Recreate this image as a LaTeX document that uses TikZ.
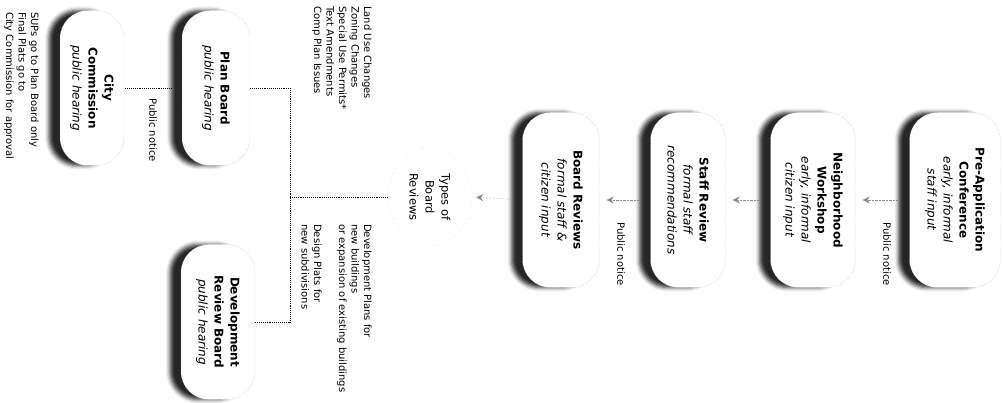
\documentclass[tikz,border=0pt]{standalone}
\usepackage{fontspec}
\setmainfont{DejaVu Sans}
\usetikzlibrary{arrows.meta,shapes.geometric,shadows.blur}

\begin{document}
\begin{tikzpicture}[x=1pt, y=-1pt, >={Stealth[length=7pt,width=7pt]},
    stage/.style={draw=black!30, densely dotted, fill=white, rounded corners=28pt,
      rotate=-90, align=center, minimum width=175pt, minimum height=78pt, inner sep=2pt,
      font=\fontsize{12}{16}\selectfont,
      blur shadow={shadow xshift=-11pt, shadow yshift=0pt, shadow blur radius=4pt, shadow opacity=85}},
    kind/.style={ellipse, draw=black!25, loosely dotted, rotate=-90, align=center,
      minimum width=98pt, minimum height=84pt, inner sep=0pt, font=\fontsize{11.5}{16}\selectfont},
    note/.style={rotate=-90, anchor=north west, align=left, inner sep=0pt, font=\fontsize{10}{12.5}\selectfont},
    notice/.style={rotate=-90, anchor=west, inner sep=0pt, font=\fontsize{10}{11}\selectfont},
    flow/.style={->, densely dotted, black!45, shorten <=12pt, shorten >=7pt},
    branch/.style={densely dotted, line width=0.9pt}]
    \useasboundingbox (0,0) rectangle (1005,403);

    % review stages
    \node[stage, minimum height=91pt] (pre) at (955,200) {\textbf{Pre-Application}\\\textbf{Conference}\\\textit{early, informal}\\\textit{staff input}};
    \node[stage, minimum height=85pt] (nbh) at (813,200) {\textbf{Neighborhood}\\\textbf{Workshop}\\\textit{early, informal}\\\textit{citizen input}};
    \node[stage, minimum height=75pt] (staff) at (688,200) {\textbf{Staff Review}\\\textit{formal staff}\\\textit{recommendations}};
    \node[stage, minimum height=77pt] (board) at (561,200) {\textbf{Board Reviews}\\\textit{formal staff \&}\\\textit{citizen input}};
    \node[kind] (types) at (430,197) {Types of\\Board\\Reviews};

    % boards
    \node[stage, minimum width=155pt, minimum height=68pt] (plan) at (216,88) {\textbf{Plan Board}\\\textit{public hearing}};
    \node[stage, minimum width=155pt, minimum height=64pt] (city) at (92,88) {\textbf{City}\\\textbf{Commission}\\\textit{public hearing}};
    \node[stage, minimum width=155pt, minimum height=74pt] (drb) at (218,322) {\textbf{Development}\\\textbf{Review Board}\\\textit{public hearing}};
    \coordinate (bar) at (290,197);

    % notes
    \node[note] (routing) at (39,12) {SUPs go to Plan Board only\\Final Plats go to\\City Commission for approval};
    \node[note] (legis) at (372,6) {Land Use Changes\\Zoning Changes\\Special Use Permits*\\Text Amendments\\Comp Plan Issues};
    \node[note] (devplans) at (372,224) {Development Plans for\\new buildings\\or expansion of existing buildings};
    \node[note] (plats) at (322,224) {Design Plats for\\new subdivisions};
    \node[notice] (pn1) at (887,222) {Public notice};
    \node[notice] (pn2) at (621,222) {Public notice};
    \node[notice] (pn3) at (153,98) {Public notice};

    % connectors
    \draw[flow] (pre.south) -- (nbh.north);
    \draw[flow] (nbh.south) -- (staff.north);
    \draw[flow] (staff.south) -- (board.north);
    \draw[flow, shorten >=4pt] (board.south) -- (types.north);
    \draw[branch] (types.south) -- (bar);
    \draw[branch] (plan.north) -| (bar);
    \draw[branch] (drb.north) -| (bar);
    \draw[branch, shorten <=1pt, shorten >=10pt] (city.north) -- (plan.south);
\end{tikzpicture}
\end{document}
